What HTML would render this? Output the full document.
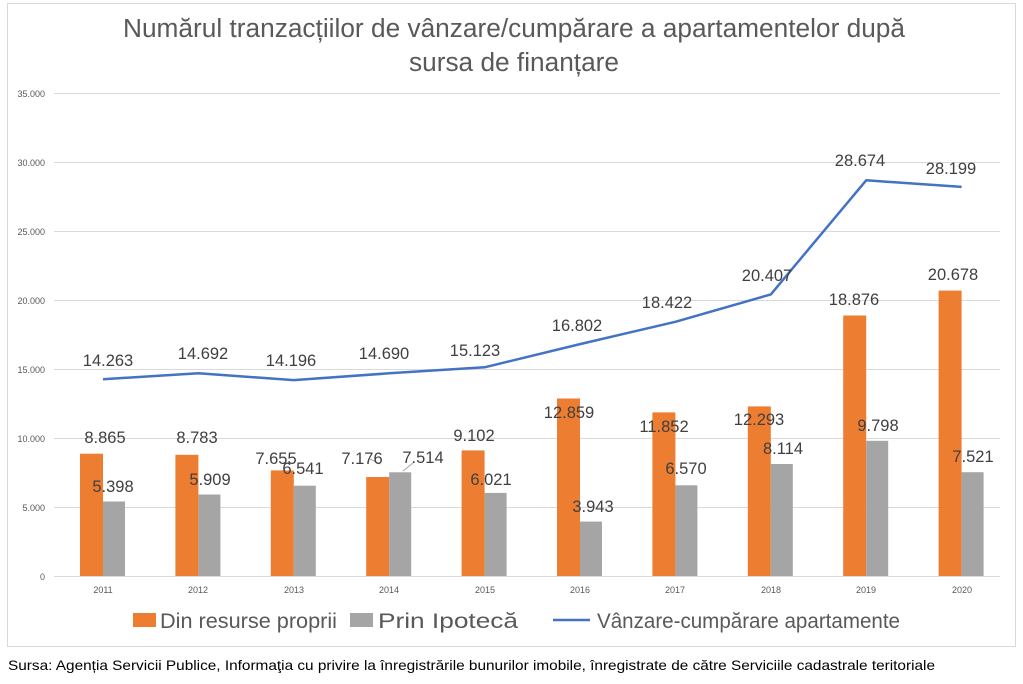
<!DOCTYPE html>
<html><head><meta charset="utf-8"><style>
body{margin:0;background:#fff;width:1023px;height:684px;overflow:hidden}
svg{display:block}
text{font-family:"Liberation Sans",sans-serif}
</style></head><body>
<svg width="1023" height="684" xmlns="http://www.w3.org/2000/svg">
<rect x="7.5" y="3.5" width="1008" height="643" fill="#fff" stroke="#d9d9d9"/>
<g fill="#595959" font-size="25.5" text-anchor="middle">
<text x="514" y="37" textLength="782" lengthAdjust="spacingAndGlyphs">Numărul tranzacțiilor de vânzare/cumpărare a apartamentelor după</text>
<text x="514" y="71" textLength="210" lengthAdjust="spacingAndGlyphs">sursa de finanțare</text>
</g>
<g stroke="#d9d9d9" stroke-width="1">
<line x1="54" x2="1000" y1="93.5" y2="93.5"/><line x1="54" x2="1000" y1="162.5" y2="162.5"/>
<line x1="54" x2="1000" y1="231.5" y2="231.5"/><line x1="54" x2="1000" y1="300.5" y2="300.5"/>
<line x1="54" x2="1000" y1="369.5" y2="369.5"/><line x1="54" x2="1000" y1="438.5" y2="438.5"/>
<line x1="54" x2="1000" y1="507.5" y2="507.5"/><line x1="54" x2="1000" y1="576.5" y2="576.5"/>
</g>
<g fill="#595959" font-size="9" text-anchor="end">
<text x="45" y="97">35.000</text><text x="45" y="166">30.000</text><text x="45" y="235">25.000</text>
<text x="45" y="304">20.000</text><text x="45" y="373">15.000</text><text x="45" y="442">10.000</text>
<text x="45" y="511">5.000</text><text x="45" y="580">0</text>
</g>
<g id="bars">
<rect x="80" y="453.7" width="23" height="122.3" fill="#ed7d31"/><rect x="103" y="501.5" width="22" height="74.5" fill="#a5a5a5"/>
<rect x="175.4" y="454.8" width="23" height="121.2" fill="#ed7d31"/><rect x="198.4" y="494.5" width="22" height="81.5" fill="#a5a5a5"/>
<rect x="270.8" y="470.4" width="23" height="105.6" fill="#ed7d31"/><rect x="293.8" y="485.7" width="22" height="90.3" fill="#a5a5a5"/>
<rect x="366.2" y="477" width="23" height="99" fill="#ed7d31"/><rect x="389.2" y="472.3" width="22" height="103.7" fill="#a5a5a5"/>
<rect x="461.6" y="450.4" width="23" height="125.6" fill="#ed7d31"/><rect x="484.6" y="492.9" width="22" height="83.1" fill="#a5a5a5"/>
<rect x="557" y="398.5" width="23" height="177.5" fill="#ed7d31"/><rect x="580" y="521.6" width="22" height="54.4" fill="#a5a5a5"/>
<rect x="652.4" y="412.4" width="23" height="163.6" fill="#ed7d31"/><rect x="675.4" y="485.3" width="22" height="90.7" fill="#a5a5a5"/>
<rect x="747.8" y="406.4" width="23" height="169.6" fill="#ed7d31"/><rect x="770.8" y="464" width="22" height="112" fill="#a5a5a5"/>
<rect x="843.2" y="315.5" width="23" height="260.5" fill="#ed7d31"/><rect x="866.2" y="440.8" width="22" height="135.2" fill="#a5a5a5"/>
<rect x="938.6" y="290.6" width="23" height="285.4" fill="#ed7d31"/><rect x="961.6" y="472.2" width="22" height="103.8" fill="#a5a5a5"/>
</g>
<polyline fill="none" stroke="#4472c4" stroke-width="2.5" stroke-linejoin="round" points="103,379.2 198.4,373.3 293.8,380.1 389.2,373.3 484.6,367.3 580,344.1 675.4,321.8 770.8,294.4 866.2,180.3 961.6,186.9"/>
<line x1="380" y1="464" x2="370" y2="459" stroke="#a5a5a5"/><line x1="403" y1="471" x2="413" y2="463" stroke="#a5a5a5"/>
<g fill="#404040" font-size="16.5" text-anchor="middle">
<text x="105" y="443">8.865</text><text x="113" y="492">5.398</text>
<text x="197" y="443">8.783</text><text x="210" y="485">5.909</text>
<text x="276" y="464">7.655</text><text x="303" y="474">6.541</text>
<text x="362" y="464">7.176</text><text x="423" y="463">7.514</text>
<text x="474" y="441">9.102</text><text x="491" y="485">6.021</text>
<text x="569" y="418">12.859</text><text x="593" y="512">3.943</text>
<text x="664" y="432">11.852</text><text x="686" y="474">6.570</text>
<text x="759" y="425">12.293</text><text x="783" y="454">8.114</text>
<text x="854" y="305">18.876</text><text x="878" y="431">9.798</text>
<text x="953" y="280">20.678</text><text x="973" y="462">7.521</text>
<text x="108" y="366">14.263</text><text x="203" y="359">14.692</text><text x="291" y="366">14.196</text>
<text x="384" y="359">14.690</text><text x="475" y="356">15.123</text><text x="577" y="331">16.802</text>
<text x="667" y="308">18.422</text><text x="767" y="281">20.407</text><text x="860" y="166">28.674</text>
<text x="951" y="174">28.199</text>
</g>
<g fill="#595959" font-size="9" text-anchor="middle">
<text x="103" y="593">2011</text><text x="198" y="593">2012</text><text x="294" y="593">2013</text>
<text x="389" y="593">2014</text><text x="485" y="593">2015</text><text x="580" y="593">2016</text>
<text x="675" y="593">2017</text><text x="771" y="593">2018</text><text x="866" y="593">2019</text>
<text x="962" y="593">2020</text>
</g>
<rect x="133" y="613" width="23" height="14" fill="#ed7d31"/>
<rect x="350" y="613" width="23" height="14" fill="#a5a5a5"/>
<line x1="553" y1="620" x2="590" y2="620" stroke="#4472c4" stroke-width="2.5"/>
<g fill="#595959" font-size="21">
<text x="160" y="628" textLength="177" lengthAdjust="spacingAndGlyphs">Din resurse proprii</text>
<text x="378" y="628" textLength="140" lengthAdjust="spacingAndGlyphs">Prin Ipotecă</text>
<text x="597" y="628" textLength="303" lengthAdjust="spacingAndGlyphs">Vânzare-cumpărare apartamente</text>
</g>
<text x="8" y="670" font-size="14" fill="#000" textLength="927" lengthAdjust="spacingAndGlyphs">Sursa: Agenția Servicii Publice, Informaţia cu privire la înregistrările bunurilor imobile, înregistrate de către Serviciile cadastrale teritoriale</text>
</svg>
</body></html>
